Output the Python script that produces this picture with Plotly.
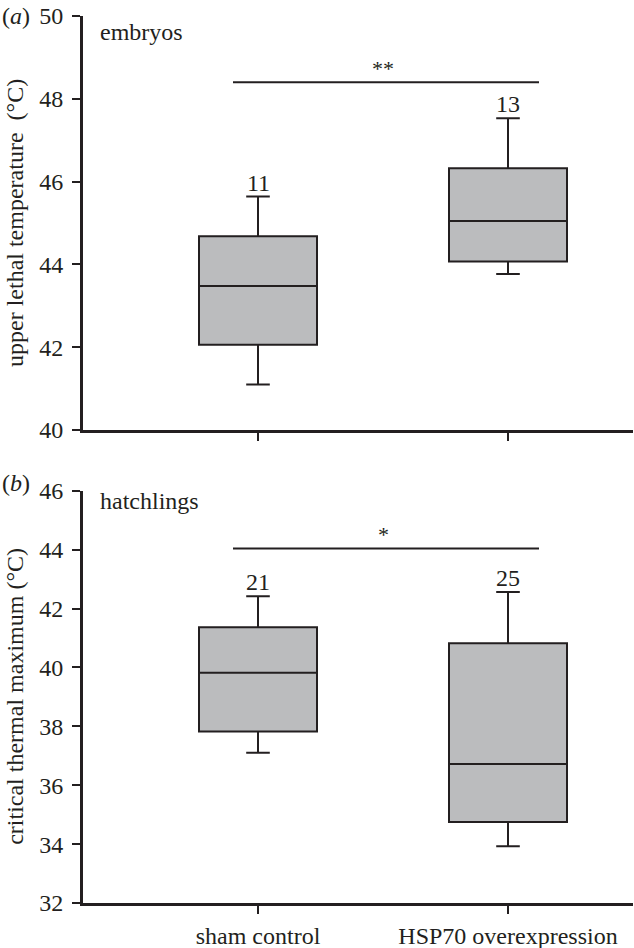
import plotly.graph_objects as go

categories = ["sham control", "HSP70 overexpression"]

# panel (a) embryos: upper lethal temperature
a_lower = [41.1, 43.77]
a_q1 = [42.06, 44.07]
a_median = [43.48, 45.05]
a_q3 = [44.68, 46.32]
a_upper = [45.64, 47.53]
a_n = ["11", "13"]
a_sig = "**"
a_sig_y = 48.4

# panel (b) hatchlings: critical thermal maximum
b_lower = [37.1, 33.93]
b_q1 = [37.82, 34.75]
b_median = [39.82, 36.72]
b_q3 = [41.36, 40.82]
b_upper = [42.42, 42.56]
b_n = ["21", "25"]
b_sig = "*"
b_sig_y = 44.04

FONT = "Liberation Serif, Times New Roman, serif"
FS = 24
INK = "#231f20"
FILL = "#bbbcbe"

W, H = 634, 948
fig = go.Figure()

x0p, x1p = 83 / W, 633 / W
top_dom = [1 - 430 / H, 1 - 16 / H]
bot_dom = [1 - 903 / H, 1 - 490.7 / H]

common_box = dict(
    fillcolor=FILL,
    line=dict(color=INK, width=2),
    width=0.472,
    whiskerwidth=0.2,
    boxpoints=False,
    showlegend=False,
    hoverinfo="skip",
)

fig.add_trace(go.Box(x=categories, q1=a_q1, median=a_median, q3=a_q3,
                     lowerfence=a_lower, upperfence=a_upper,
                     xaxis="x", yaxis="y", **common_box))
fig.add_trace(go.Box(x=categories, q1=b_q1, median=b_median, q3=b_q3,
                     lowerfence=b_lower, upperfence=b_upper,
                     xaxis="x2", yaxis="y2", **common_box))

axis_common = dict(showline=True, linecolor=INK, linewidth=3, ticks="outside",
                   tickcolor=INK, tickwidth=2, showgrid=False, zeroline=False,
                   automargin=False, ticklen=8,
                   tickfont=dict(family=FONT, size=FS, color=INK))

fig.update_layout(
    template="none",
    width=W, height=H,
    margin=dict(l=0, r=0, t=0, b=0, pad=0, autoexpand=False),
    plot_bgcolor="white", paper_bgcolor="white",
    xaxis=dict(domain=[x0p, x1p], anchor="y", type="category",
               categoryorder="array", categoryarray=categories,
               range=[-0.7, 1.5], showticklabels=False, **axis_common),
    yaxis=dict(domain=top_dom, anchor="x", range=[40, 50], dtick=2,
               ticklabelstandoff=4, **axis_common),
    xaxis2=dict(domain=[x0p, x1p], anchor="y2", type="category",
                categoryorder="array", categoryarray=categories,
                range=[-0.7, 1.5], ticklabelstandoff=1, **axis_common),
    yaxis2=dict(domain=bot_dom, anchor="x2", range=[32, 46], dtick=2,
                ticklabelstandoff=4, **axis_common),
)

tf = dict(family=FONT, size=FS, color=INK)
ann = []
# n labels
for xr, yr, ups, ns in (("x", "y", a_upper, a_n), ("x2", "y2", b_upper, b_n)):
    for c, u, n in zip(categories, ups, ns):
        ann.append(dict(x=c, y=u, xref=xr, yref=yr, text=n, showarrow=False,
                        yanchor="bottom", yshift=-1, font=tf))
# significance bars
for xr, yr, sy, s in (("x", "y", a_sig_y, a_sig), ("x2", "y2", b_sig_y, b_sig)):
    fig.add_shape(type="line", xref=xr, yref=yr, x0=-0.1, x1=1.124, y0=sy, y1=sy,
                  line=dict(color=INK, width=2))
    ann.append(dict(x=0.5, y=sy, xref=xr, yref=yr, text=s, showarrow=False,
                    yanchor="bottom", yshift=-1, font=dict(family=FONT, size=22, color=INK)))

# panel labels
ann.append(dict(x=98 / W, y=1 - 32 / H, xref="paper", yref="paper", text="embryos",
                showarrow=False, xanchor="left", yanchor="middle", font=tf))
ann.append(dict(x=98 / W, y=1 - 501 / H, xref="paper", yref="paper", text="hatchlings",
                showarrow=False, xanchor="left", yanchor="middle", font=tf))
ann.append(dict(x=0, y=1 - 16 / H, xref="paper", yref="paper", text="(<i>a</i>)",
                showarrow=False, xanchor="left", yanchor="middle", font=tf))
ann.append(dict(x=0, y=1 - 483 / H, xref="paper", yref="paper", text="(<i>b</i>)",
                showarrow=False, xanchor="left", yanchor="middle", font=tf))
# y titles
ann.append(dict(x=15 / W, y=sum(top_dom) / 2, xref="paper", yref="paper",
                text="upper lethal temperature \u00a0(°C)", textangle=-90,
                showarrow=False, xanchor="center", yanchor="middle", font=tf))
ann.append(dict(x=15 / W, y=sum(bot_dom) / 2, xref="paper", yref="paper",
                text="critical thermal maximum (°C)", textangle=-90,
                showarrow=False, xanchor="center", yanchor="middle", font=tf))

fig.update_layout(annotations=ann)
fig.write_html("out.html",
               config={"displayModeBar": False},
               post_script="document.body.style.margin='0';document.body.style.overflow='hidden';")
